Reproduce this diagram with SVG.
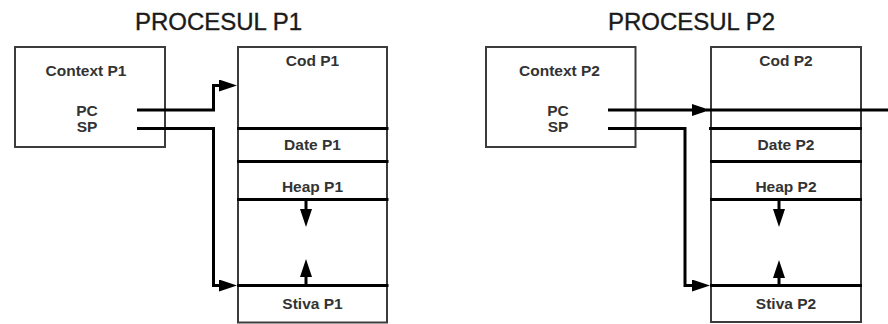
<svg xmlns="http://www.w3.org/2000/svg" width="888" height="324" viewBox="0 0 888 324">
  <style>
    .title { font-family: "Liberation Sans", Arial, sans-serif; font-size: 24px; fill: #1a1a1a; stroke: #1a1a1a; stroke-width: 0.35; text-anchor: middle; }
    .lbl { font-family: "Liberation Sans", Arial, sans-serif; font-size: 15.5px; font-weight: bold; fill: #333333; text-anchor: middle; }
    .box { fill: #ffffff; stroke: #3c3c3c; stroke-width: 2; }
    .div { stroke: #000000; stroke-width: 3; fill: none; }
    .wire { stroke: #000000; stroke-width: 3; fill: none; stroke-linejoin: miter; }
    .arrow { marker-end: url(#head); }
  </style>
  <defs>
    <marker id="head" markerUnits="userSpaceOnUse" markerWidth="18" markerHeight="12" refX="8" refY="6" orient="auto">
      <path d="M0,0 L18,6 L0,12 z" fill="#000000"/>
    </marker>
  </defs>

  <rect width="888" height="324" fill="#ffffff"/>

  <!-- process 1 -->
  <g id="title-p1">
    <text class="title" x="218.5" y="29.5">PROCESUL P1</text>
  </g>
  <g id="context-p1">
    <rect class="box" x="15" y="47" width="150" height="100"/>
    <text class="lbl" x="86" y="75.5">Context P1</text>
    <text class="lbl" x="87" y="115.5">PC</text>
    <text class="lbl" x="87" y="131.5">SP</text>
  </g>
  <g id="memory-p1">
    <rect class="box" x="238" y="47" width="149" height="275.5"/>
    <text class="lbl" x="312.5" y="66">Cod P1</text>
    <text class="lbl" x="312.5" y="149.5">Date P1</text>
    <text class="lbl" x="312.5" y="192">Heap P1</text>
    <text class="lbl" x="312.5" y="308.5">Stiva P1</text>
    <path class="div" d="M237,128.5 H388.5 M237,161.5 H388.5 M237,199.5 H388.5 M237,285.5 H388.5"/>
  </g>

  <!-- process 2 -->
  <g id="title-p2">
    <text class="title" x="691.5" y="29.5">PROCESUL P2</text>
  </g>
  <g id="context-p2">
    <rect class="box" x="486" y="47" width="149.5" height="100"/>
    <text class="lbl" x="559.5" y="75.5">Context P2</text>
    <text class="lbl" x="558" y="115.5">PC</text>
    <text class="lbl" x="558" y="131.5">SP</text>
  </g>
  <g id="memory-p2">
    <rect class="box" x="711" y="47" width="150" height="275"/>
    <text class="lbl" x="786" y="66">Cod P2</text>
    <text class="lbl" x="786" y="150">Date P2</text>
    <text class="lbl" x="786" y="192">Heap P2</text>
    <text class="lbl" x="786" y="308.5">Stiva P2</text>
    <path class="div" d="M709,128.5 H862 M710,161.5 H862 M710,199.5 H862 M710,285.5 H862"/>
  </g>

  <!-- connectors -->
  <g id="connectors">
    <path class="wire arrow" d="M137,110 H213.5 V85.5 H227"/>
    <path class="wire arrow" d="M137,128.5 H213.5 V285.5 H227"/>
    <path class="wire arrow" d="M306,199.5 V217"/>
    <path class="wire arrow" d="M306,285.5 V269"/>

    <path class="wire arrow" d="M608,110 H700"/>
    <path class="wire" d="M706,110 H888"/>
    <path class="wire arrow" d="M608,128.5 H685 V285.5 H700"/>
    <path class="wire arrow" d="M779,199.5 V217"/>
    <path class="wire arrow" d="M779,285.5 V270"/>
  </g>
</svg>
